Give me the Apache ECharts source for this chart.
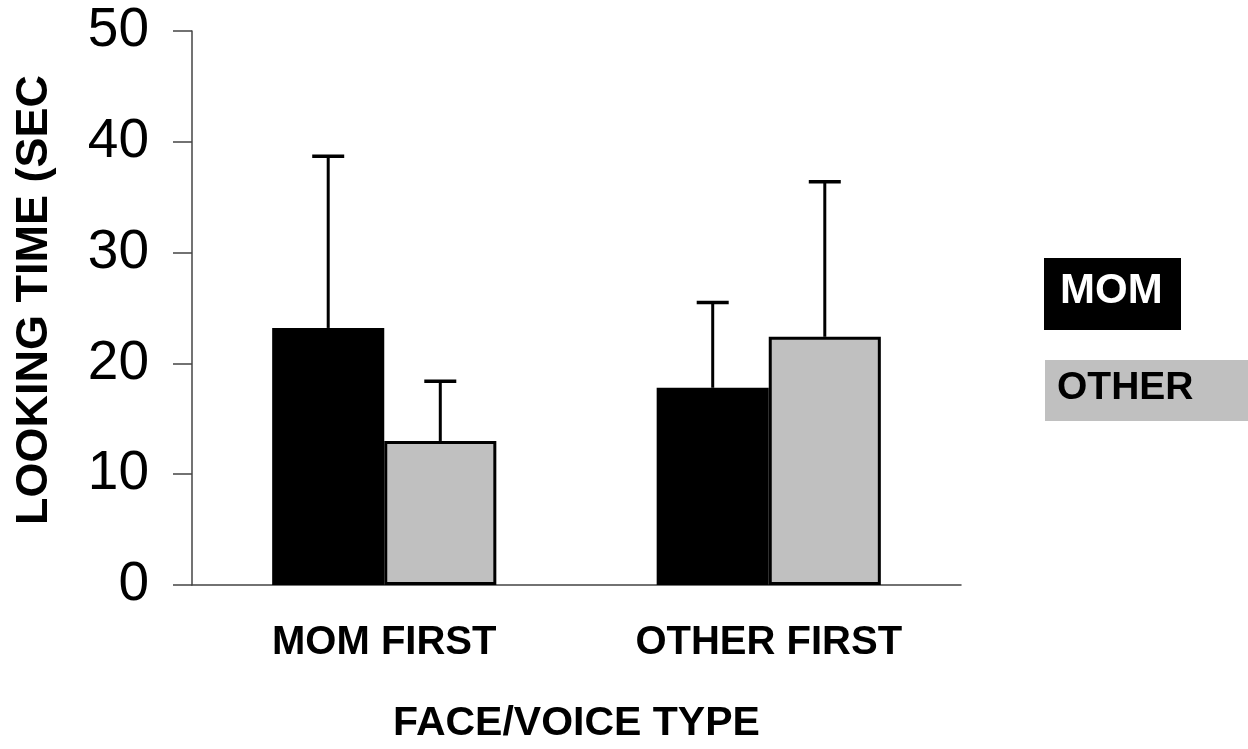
<!DOCTYPE html>
<html>
<head>
<meta charset="utf-8">
<script src="https://cdn.jsdelivr.net/npm/echarts@6/dist/echarts.min.js"></script>
<style>
html,body{margin:0;padding:0;background:#fff;}
#chart{width:1248px;height:749px;}
</style>
</head>
<body>
<div id="chart"></div>
<script>
var categories = ['MOM FIRST', 'OTHER FIRST'];
var seriesNames = ['MOM', 'OTHER'];
var momValues = [23.2, 17.8];
var otherValues = [13.0, 22.4];
var momErrTop = [38.7, 25.5];
var otherErrTop = [18.4, 36.4];
var yTicks = [0, 10, 20, 30, 40, 50];

var FONT = '"Liberation Sans", Arial, sans-serif';
var CAT_GAP = 0.417;

function errorSeries(name, values, tops, idx) {
  var data = values.map(function (v, i) { return [i, v, tops[i]]; });
  return {
    type: 'custom',
    name: name + ' err',
    data: data,
    z: 5,
    silent: true,
    renderItem: function (params, api) {
      var ci = api.value(0);
      var base = api.coord([ci, api.value(1)]);
      var top = api.coord([ci, api.value(2)]);
      var band = api.size([1, 0])[0];
      var barW = band * (1 - CAT_GAP) / 2;
      var x = base[0] + (idx === 0 ? -barW / 2 : barW / 2);
      var cap = 16;
      return {
        type: 'group',
        children: [
          { type: 'line', shape: { x1: x, y1: base[1], x2: x, y2: top[1] }, style: { stroke: '#000', lineWidth: 3 } },
          { type: 'line', shape: { x1: x - cap, y1: top[1], x2: x + cap, y2: top[1] }, style: { stroke: '#000', lineWidth: 3.5 } }
        ]
      };
    }
  };
}

var chart = echarts.init(document.getElementById('chart'));
chart.setOption({
  animation: false,
  backgroundColor: '#fff',
  grid: { left: 192, right: 287, top: 31, bottom: 161 },
  xAxis: {
    type: 'category',
    data: categories,
    name: 'FACE/VOICE TYPE',
    nameLocation: 'middle',
    nameGap: 118,
    nameTextStyle: { fontFamily: FONT, fontWeight: 'bold', fontSize: 41, color: '#000' },
    axisLine: { show: true, lineStyle: { color: '#444', width: 1.5 } },
    axisTick: { show: false },
    axisLabel: { fontFamily: FONT, fontWeight: 'bold', fontSize: 40, color: '#000', margin: 38 }
  },
  yAxis: {
    type: 'value',
    min: 0, max: 50, interval: 10,
    name: 'LOOKING TIME (SEC',
    nameLocation: 'middle',
    nameGap: 135,
    nameRotate: 90,
    nameTextStyle: { fontFamily: FONT, fontWeight: 'bold', fontSize: 45, color: '#000', padding: [0, 0, 0, 16] },
    splitLine: { show: false },
    axisLine: { show: true, lineStyle: { color: '#444', width: 1.5 } },
    axisTick: { show: true, inside: false, length: 19, lineStyle: { color: '#444', width: 1.5 } },
    axisLabel: {
      fontFamily: FONT, fontSize: 55, color: '#000', margin: 43,
      formatter: function (v) { return yTicks.indexOf(v) >= 0 ? String(v) : ''; }
    }
  },
  series: [
    {
      type: 'bar', name: seriesNames[0], data: momValues,
      barGap: '0%', barCategoryGap: (CAT_GAP * 100) + '%',
      itemStyle: { color: '#000', borderColor: '#000', borderWidth: 3 }
    },
    {
      type: 'bar', name: seriesNames[1], data: otherValues,
      barGap: '0%', barCategoryGap: (CAT_GAP * 100) + '%',
      itemStyle: { color: '#c0c0c0', borderColor: '#000', borderWidth: 3 }
    },
    errorSeries(seriesNames[0], momValues, momErrTop, 0),
    errorSeries(seriesNames[1], otherValues, otherErrTop, 1)
  ],
  graphic: [
    { type: 'rect', left: 1044, top: 258, shape: { width: 137, height: 72 }, style: { fill: '#000' } },
    { type: 'text', left: 1060, top: 270, style: { text: seriesNames[0], fill: '#fff', font: 'bold 42px ' + FONT } },
    { type: 'rect', left: 1045, top: 360, shape: { width: 203, height: 61 }, style: { fill: '#c0c0c0' } },
    { type: 'text', left: 1057, top: 369, style: { text: seriesNames[1], fill: '#000', font: 'bold 39px ' + FONT } }
  ]
});
</script>
</body>
</html>
